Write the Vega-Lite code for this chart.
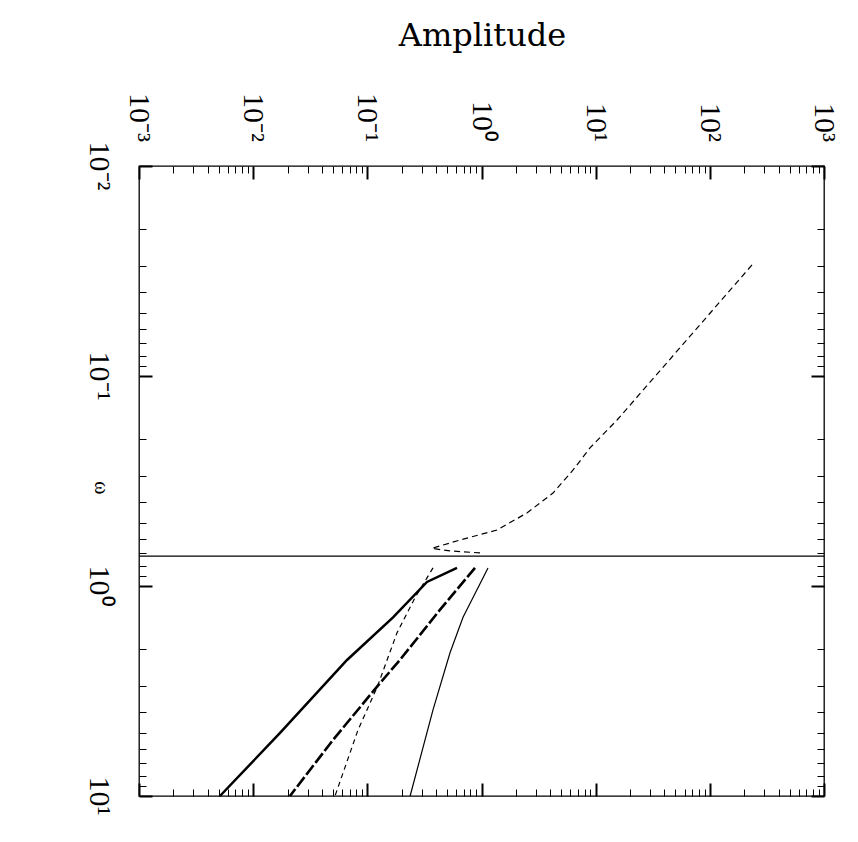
{
  "$schema": "https://vega.github.io/schema/vega-lite/v6.json",
  "width": 685,
  "height": 630,
  "autosize": {"type": "none"},
  "padding": {"left": 139, "top": 166, "right": 34, "bottom": 46},
  "background": "white",
  "config": {
    "view": {"stroke": "black", "strokeWidth": 1.3},
    "axis": {"grid": false, "domain": false, "tickColor": "black", "labelColor": "black", "titleColor": "black"}
  },
  "datasets": {
    "curves": [
      {"s": "pole", "i": 1, "A": 234, "w": 0.0296},
      {"s": "pole", "i": 2, "A": 15.4, "w": 0.162},
      {"s": "pole", "i": 3, "A": 8.91, "w": 0.22},
      {"s": "pole", "i": 4, "A": 6.32, "w": 0.281},
      {"s": "pole", "i": 5, "A": 4.23, "w": 0.361},
      {"s": "pole", "i": 6, "A": 2.5, "w": 0.449},
      {"s": "pole", "i": 7, "A": 1.37, "w": 0.541},
      {"s": "pole", "i": 8, "A": 0.649, "w": 0.604},
      {"s": "pole", "i": 9, "A": 0.43, "w": 0.645},
      {"s": "pole", "i": 10, "A": 0.368, "w": 0.662},
      {"s": "pole", "i": 11, "A": 0.53, "w": 0.681},
      {"s": "pole", "i": 12, "A": 1.03, "w": 0.697},
      {"s": "thickSolid", "i": 1, "A": 0.61, "w": 0.82},
      {"s": "thickSolid", "i": 2, "A": 0.333, "w": 0.957},
      {"s": "thickSolid", "i": 3, "A": 0.168, "w": 1.41},
      {"s": "thickSolid", "i": 4, "A": 0.0664, "w": 2.25},
      {"s": "thickSolid", "i": 5, "A": 0.0172, "w": 5.01},
      {"s": "thickSolid", "i": 6, "A": 0.00512, "w": 10},
      {"s": "thickDash", "i": 1, "A": 0.877, "w": 0.82},
      {"s": "thickDash", "i": 2, "A": 0.432, "w": 1.3},
      {"s": "thickDash", "i": 3, "A": 0.193, "w": 2.25},
      {"s": "thickDash", "i": 4, "A": 0.129, "w": 2.9},
      {"s": "thickDash", "i": 5, "A": 0.05, "w": 5.41},
      {"s": "thickDash", "i": 6, "A": 0.021, "w": 10},
      {"s": "thinDash", "i": 1, "A": 0.376, "w": 0.82},
      {"s": "thinDash", "i": 2, "A": 0.261, "w": 1.14},
      {"s": "thinDash", "i": 3, "A": 0.182, "w": 1.67},
      {"s": "thinDash", "i": 4, "A": 0.122, "w": 3.03},
      {"s": "thinDash", "i": 5, "A": 0.0828, "w": 4.85},
      {"s": "thinDash", "i": 6, "A": 0.0521, "w": 10},
      {"s": "thinSolid", "i": 1, "A": 1.14, "w": 0.82},
      {"s": "thinSolid", "i": 2, "A": 0.689, "w": 1.41},
      {"s": "thinSolid", "i": 3, "A": 0.53, "w": 2.08},
      {"s": "thinSolid", "i": 4, "A": 0.376, "w": 3.89},
      {"s": "thinSolid", "i": 5, "A": 0.237, "w": 10}
    ],
    "cut": [{"w": 0.72}],
    "xlabs": [
      {"A": 0.001, "lab": "10⁻³"},
      {"A": 0.01, "lab": "10⁻²"},
      {"A": 0.1, "lab": "10⁻¹"},
      {"A": 1, "lab": "10⁰"},
      {"A": 10, "lab": "10¹"},
      {"A": 100, "lab": "10²"},
      {"A": 1000, "lab": "10³"}
    ],
    "ylabs": [
      {"w": 0.01, "lab": "10⁻²"},
      {"w": 0.1, "lab": "10⁻¹"},
      {"w": 1, "lab": "10⁰"},
      {"w": 10, "lab": "10¹"}
    ],
    "ytitle": [{"w": 0.341, "lab": "ω"}]
  },
  "layer": [
    {
      "data": {"name": "curves"},
      "transform": [{"filter": "datum.s == 'pole'"}],
      "mark": {"type": "line", "color": "black", "strokeWidth": 1.2, "strokeDash": [6, 4]},
      "encoding": {
        "x": {
          "field": "A", "type": "quantitative",
          "scale": {"type": "log", "domain": [0.001, 1000], "nice": false},
          "axis": {
            "orient": "top",
            "values": [0.001, 0.002, 0.003, 0.004, 0.005, 0.006, 0.007, 0.008, 0.009, 0.01, 0.02, 0.03, 0.04, 0.05, 0.06, 0.07, 0.08, 0.09, 0.1, 0.2, 0.3, 0.4, 0.5, 0.6, 0.7, 0.8, 0.9, 1, 2, 3, 4, 5, 6, 7, 8, 9, 10, 20, 30, 40, 50, 60, 70, 80, 90, 100, 200, 300, 400, 500, 600, 700, 800, 900, 1000],
            "labels": false,
            "tickSize": {"condition": {"test": "indexof([0.001,0.01,0.1,1,10,100,1000], datum.value) >= 0", "value": -13}, "value": -7},
            "tickWidth": {"condition": {"test": "indexof([0.001,0.01,0.1,1,10,100,1000], datum.value) >= 0", "value": 2}, "value": 1},
            "title": "Amplitude", "titleFont": "DejaVu Serif", "titleFontSize": 32, "titleFontWeight": "normal",
            "titleX": 343, "titleY": -121, "titleAlign": "center", "titleBaseline": "alphabetic", "titleAngle": 0
          }
        },
        "y": {
          "field": "w", "type": "quantitative",
          "scale": {"type": "log", "domain": [0.01, 10], "nice": false, "reverse": true},
          "axis": {
            "orient": "left",
            "values": [0.01, 0.02, 0.03, 0.04, 0.05, 0.06, 0.07, 0.08, 0.09, 0.1, 0.2, 0.3, 0.4, 0.5, 0.6, 0.7, 0.8, 0.9, 1, 2, 3, 4, 5, 6, 7, 8, 9, 10],
            "labels": false, "title": null,
            "tickSize": {"condition": {"test": "indexof([0.01,0.1,1,10], datum.value) >= 0", "value": -13}, "value": -7},
            "tickWidth": {"condition": {"test": "indexof([0.01,0.1,1,10], datum.value) >= 0", "value": 2}, "value": 1}
          }
        },
        "order": {"field": "i", "type": "quantitative"}
      }
    },
    {
      "data": {"name": "curves"},
      "transform": [{"filter": "datum.s == 'thinSolid'"}],
      "mark": {"type": "line", "color": "black", "strokeWidth": 1.2},
      "encoding": {
        "x": {
          "field": "A", "type": "quantitative",
          "axis": {
            "orient": "bottom",
            "values": [0.001, 0.002, 0.003, 0.004, 0.005, 0.006, 0.007, 0.008, 0.009, 0.01, 0.02, 0.03, 0.04, 0.05, 0.06, 0.07, 0.08, 0.09, 0.1, 0.2, 0.3, 0.4, 0.5, 0.6, 0.7, 0.8, 0.9, 1, 2, 3, 4, 5, 6, 7, 8, 9, 10, 20, 30, 40, 50, 60, 70, 80, 90, 100, 200, 300, 400, 500, 600, 700, 800, 900, 1000],
            "labels": false, "title": null,
            "tickSize": {"condition": {"test": "indexof([0.001,0.01,0.1,1,10,100,1000], datum.value) >= 0", "value": -13}, "value": -7},
            "tickWidth": {"condition": {"test": "indexof([0.001,0.01,0.1,1,10,100,1000], datum.value) >= 0", "value": 2}, "value": 1}
          }
        },
        "y": {
          "field": "w", "type": "quantitative",
          "axis": {
            "orient": "right",
            "values": [0.01, 0.02, 0.03, 0.04, 0.05, 0.06, 0.07, 0.08, 0.09, 0.1, 0.2, 0.3, 0.4, 0.5, 0.6, 0.7, 0.8, 0.9, 1, 2, 3, 4, 5, 6, 7, 8, 9, 10],
            "labels": false, "title": null,
            "tickSize": {"condition": {"test": "indexof([0.01,0.1,1,10], datum.value) >= 0", "value": -13}, "value": -7},
            "tickWidth": {"condition": {"test": "indexof([0.01,0.1,1,10], datum.value) >= 0", "value": 2}, "value": 1}
          }
        },
        "order": {"field": "i", "type": "quantitative"}
      }
    },
    {
      "data": {"name": "curves"},
      "transform": [{"filter": "datum.s == 'thickSolid'"}],
      "mark": {"type": "line", "color": "black", "strokeWidth": 2.5},
      "encoding": {
        "x": {"field": "A", "type": "quantitative", "axis": null},
        "y": {"field": "w", "type": "quantitative", "axis": null},
        "order": {"field": "i", "type": "quantitative"}
      }
    },
    {
      "data": {"name": "curves"},
      "transform": [{"filter": "datum.s == 'thickDash'"}],
      "mark": {"type": "line", "color": "black", "strokeWidth": 2.6, "strokeDash": [12, 3]},
      "encoding": {
        "x": {"field": "A", "type": "quantitative", "axis": null},
        "y": {"field": "w", "type": "quantitative", "axis": null},
        "order": {"field": "i", "type": "quantitative"}
      }
    },
    {
      "data": {"name": "curves"},
      "transform": [{"filter": "datum.s == 'thinDash'"}],
      "mark": {"type": "line", "color": "black", "strokeWidth": 1.2, "strokeDash": [5, 4]},
      "encoding": {
        "x": {"field": "A", "type": "quantitative", "axis": null},
        "y": {"field": "w", "type": "quantitative", "axis": null},
        "order": {"field": "i", "type": "quantitative"}
      }
    },
    {
      "data": {"name": "cut"},
      "mark": {"type": "rule", "color": "black", "strokeWidth": 1.3},
      "encoding": {
        "y": {"field": "w", "type": "quantitative", "axis": null}
      }
    },
    {
      "data": {"name": "xlabs"},
      "mark": {"type": "text", "angle": 90, "align": "right", "baseline": "middle", "dx": -24, "font": "Liberation Serif", "fontSize": 30},
      "encoding": {
        "x": {"field": "A", "type": "quantitative", "axis": null},
        "y": {"datum": 0.01, "type": "quantitative", "axis": null},
        "text": {"field": "lab"}
      }
    },
    {
      "data": {"name": "ylabs"},
      "mark": {"type": "text", "angle": 90, "align": "center", "baseline": "top", "dy": 25, "font": "Liberation Serif", "fontSize": 30},
      "encoding": {
        "x": {"datum": 0.001, "type": "quantitative", "axis": null},
        "y": {"field": "w", "type": "quantitative", "axis": null},
        "text": {"field": "lab"}
      }
    },
    {
      "data": {"name": "ytitle"},
      "mark": {"type": "text", "angle": 90, "align": "center", "baseline": "middle", "dy": 38, "font": "Liberation Serif", "fontSize": 20},
      "encoding": {
        "x": {"datum": 0.001, "type": "quantitative", "axis": null},
        "y": {"field": "w", "type": "quantitative", "axis": null},
        "text": {"field": "lab"}
      }
    }
  ],
  "resolve": {"axis": {"x": "independent", "y": "independent"}}
}
